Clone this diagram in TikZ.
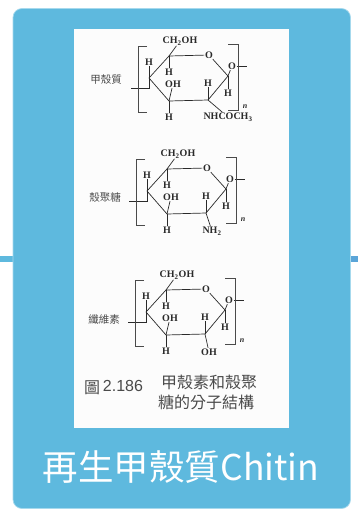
\documentclass[tikz,border=0pt]{standalone}
\usepackage{fontspec}
\setmainfont{Liberation Serif}
\newfontfamily\cjk{Noto Sans CJK TC}
\newfontfamily\sanslab{Liberation Sans}
\definecolor{panelblue}{HTML}{5EB9DE}
\definecolor{stubblue}{HTML}{5AA5D8}
\definecolor{ink}{HTML}{2A2A2A}
\tikzset{
  atom/.style={inner sep=0.6pt,text=ink,font=\fontsize{10}{11}\selectfont\bfseries},
  bond/.style={draw=ink,line width=0.7pt},
  bracketline/.style={draw=ink!85,line width=0.7pt},
  sidelabel/.style={inner sep=0pt,text=ink!85,font=\fontsize{10.5}{11}\selectfont\cjk},
  caption/.style={inner sep=0pt,text=ink!85,font=\fontsize{16}{18}\selectfont\cjk},
}
\newcommand{\sugar}[5]{%
\begin{scope}[shift={(#2,#3)}]
  \coordinate (#1c5) at (0,0);
  \coordinate (#1c4) at (-20,22);
  \coordinate (#1c3) at (0,45);
  \coordinate (#1c2) at (39,44);
  \coordinate (#1c1) at (59,20);
  \node[atom] (#1o) at (40,-1) {O};
  \node[atom] (#1ob) at (63,10) {O};
  \node[atom] (#1ch) at (11,-15) {CH\textsubscript{2}OH};
  \node[atom] (#1h4) at (-20,6) {H};
  \node[atom] (#1h5) at (0,16) {H};
  \node[atom] (#1oh) at (4,28) {OH};
  \node[atom] (#1h3) at (0,61) {H};
  \node[atom] (#1h2) at (39,27) {H};
  \node[atom] (#1r) at (#5) {#4};
  \node[atom] (#1h1) at (59,37) {H};
  \coordinate (#1tail) at (78,10);
  \coordinate (#1stub) at (-38,32);
  \coordinate (#1stubj) at (-20,32);
  \draw[bond] (#1c5) -- (#1o) -- (#1c1) -- (#1c2) -- (#1c3) -- (#1c4) -- (#1c5);
  \draw[bond] (#1c5) -- (#1ch);
  \draw[bond] (#1c5) -- (#1h5);
  \draw[bond] (#1c4) -- (#1h4);
  \draw[bond] (#1c3) -- (#1oh);
  \draw[bond] (#1c3) -- (#1h3);
  \draw[bond] (#1c2) -- (#1h2);
  \draw[bond] (#1c2) -- (#1r);
  \draw[bond] (#1c1) -- (#1h1);
  \draw[bond] (#1c1) -- (#1ob);
  \draw[bond] (#1ob) -- (#1tail);
  \draw[bond] (#1c4) -- (#1stubj) -- (#1stub);
  \draw[bracketline] (-22,-10) -- (-31,-10) -- (-31,56) -- (-22,56);
  \draw[bracketline] (59,-12) -- (69,-12) -- (69,54) -- (59,54);
  \node[inner sep=0pt,text=ink,font=\fontsize{8}{9}\selectfont\itshape\bfseries] (#1n) at (76,51) {n};
\end{scope}}
\begin{document}
\begin{tikzpicture}[x=1pt,y=-1pt]
\useasboundingbox (0,0) rectangle (358,509);
\fill[white] (0,0) rectangle (358,509);
\fill[panelblue] (0,256) rectangle (14,262);
\fill[stubblue] (349,256) rectangle (358,262);
\fill[panelblue,draw=panelblue!55,line width=0.7pt,rounded corners=9pt] (13,8.5) rectangle (350.5,508.5);
\fill[white!99!black] (74,29) rectangle (289,428);
\sugar{a}{169}{56}{NHCOCH\textsubscript{3}}{59,61}
\sugar{b}{167}{169}{NH\textsubscript{2}}{45,62}
\sugar{c}{166}{290}{OH}{43,62}
\node[sidelabel] (la) at (106,80) {甲殼質};
\node[sidelabel] (lb) at (105,197) {殼聚糖};
\node[sidelabel] (lc) at (104,320) {纖維素};
\node[caption] (figa) at (92,388) {圖};
\node[inner sep=0pt,text=ink!85,font=\fontsize{16}{18}\selectfont\sanslab] (figb) at (123,386) {2.186};
\node[caption] (capa) at (209,382) {甲殼素和殼聚};
\node[caption] (capb) at (206,402) {糖的分子結構};
\node[inner sep=0pt,text=white,font=\fontsize{35.5}{40}\selectfont\cjk] (title) at (181,467) {再生甲殼質Chitin};
\end{tikzpicture}
\end{document}
